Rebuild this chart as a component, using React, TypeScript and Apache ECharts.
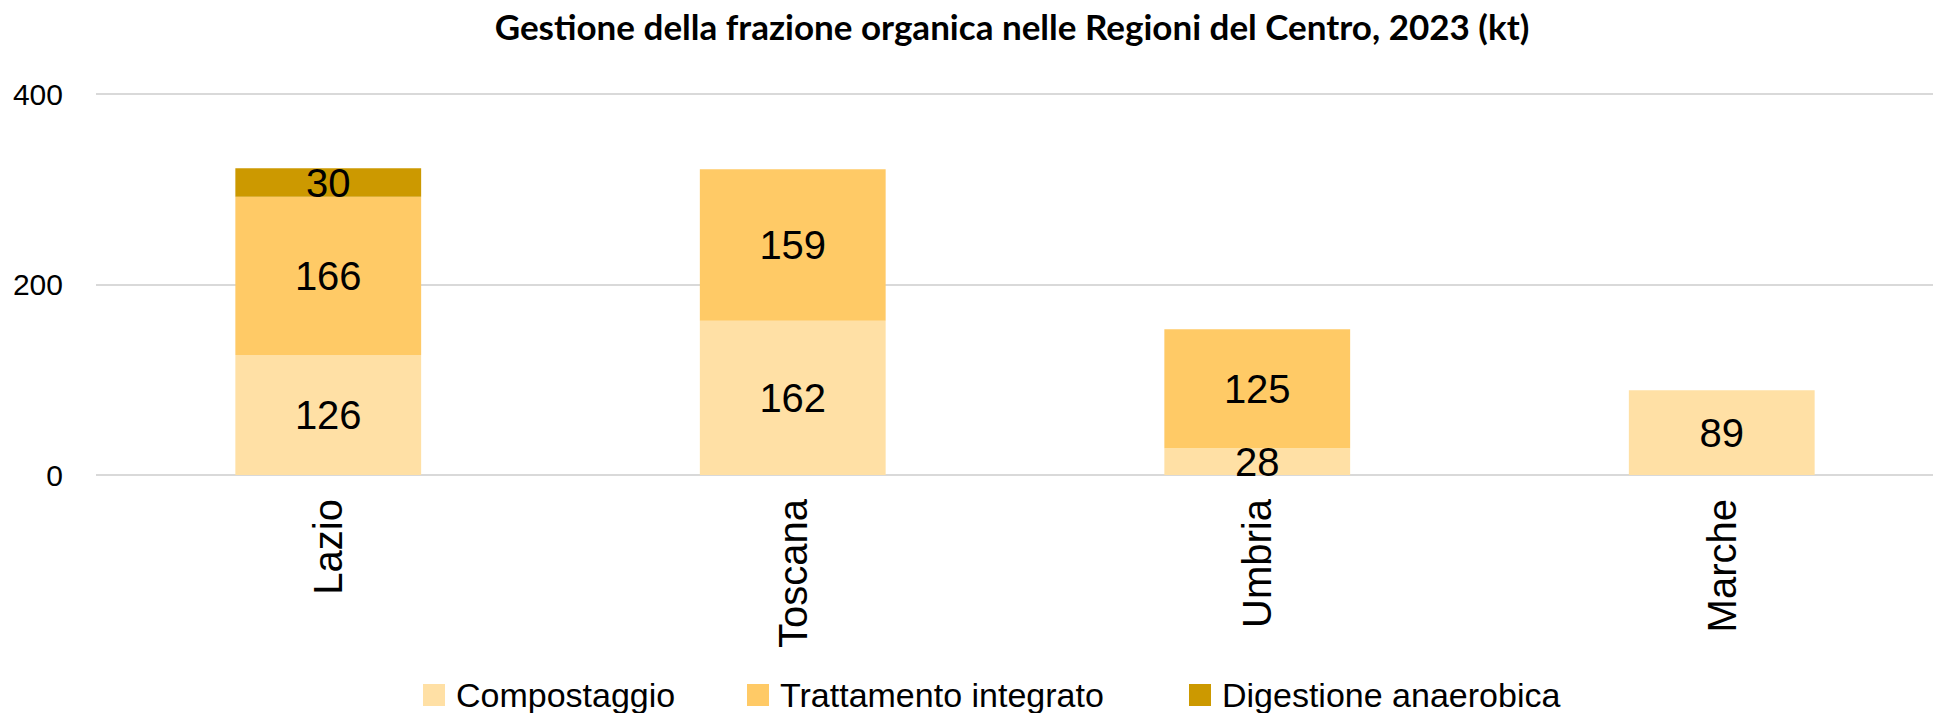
import React, { useEffect, useRef } from "react";
import * as echarts from "echarts";

const title = "Gestione della frazione organica nelle Regioni del Centro, 2023 (kt)";
const categories = ["Lazio", "Toscana", "Umbria", "Marche"];
const compostaggio = [126, 162, 28, 89];
const trattamento = [166, 159, 125, null];
const digestione = [30, null, null, null];
const yTicks = { min: 0, max: 400, interval: 200 };
const seriesNames = ["Compostaggio", "Trattamento integrato", "Digestione anaerobica"];
const colors = ["#FFE0A5", "#FFCA66", "#CC9900"];

export default function App() {
  const ref = useRef<HTMLDivElement>(null);
  useEffect(() => {
    document.body.style.margin = "0";
    if (!ref.current) return;
    const chart = echarts.init(ref.current, null, { renderer: "svg" });
    const font = "'Liberation Sans', Arial, sans-serif";
    const dataSets = [compostaggio, trattamento, digestione];
    const legendLefts = [418, 742, 1184];
    chart.setOption({
      animation: false,
      title: {
        text: title,
        left: 1007,
        textAlign: "center",
        top: 3,
        textStyle: { fontFamily: "Lato, 'Open Sans', sans-serif", fontWeight: "bold", fontSize: 35, color: "#000" },
      },
      grid: { left: 96, right: 6, top: 94, bottom: 238, containLabel: false },
      legend: seriesNames.map((name, i) => ({
        top: 673,
        left: legendLefts[i],
        itemWidth: 22,
        itemHeight: 22,
        icon: "rect",
        textStyle: { fontFamily: font, fontSize: 34, lineHeight: 34, color: "#000", padding: [0, 0, 0, 6] },
        data: [name],
      })),
      xAxis: {
        type: "category",
        data: categories,
        axisLine: { show: false },
        axisTick: { show: false },
        axisLabel: { rotate: 90, margin: 24, fontFamily: font, fontSize: 40, color: "#000" },
      },
      yAxis: {
        type: "value",
        min: yTicks.min,
        max: yTicks.max,
        interval: yTicks.interval,
        axisLine: { show: false },
        axisTick: { show: false },
        splitLine: { lineStyle: { color: "#D9D9D9", width: 2 } },
        axisLabel: { margin: 33, fontFamily: font, fontSize: 30, color: "#000" },
      },
      series: seriesNames.map((name, i) => ({
        name,
        type: "bar",
        stack: "total",
        barWidth: "40%",
        itemStyle: { color: colors[i] },
        data: dataSets[i],
        label: {
          show: true,
          position: "inside",
          fontFamily: font,
          fontSize: 40,
          color: "#000",
          formatter: (p: any) => (p.value == null ? "" : String(p.value)),
        },
      })),
    });
    return () => chart.dispose();
  }, []);
  return (
    <div style={{ width: 1933, height: 713, overflow: "hidden" }}>
      <div ref={ref} style={{ width: 1960, height: 713 }} />
    </div>
  );
}
